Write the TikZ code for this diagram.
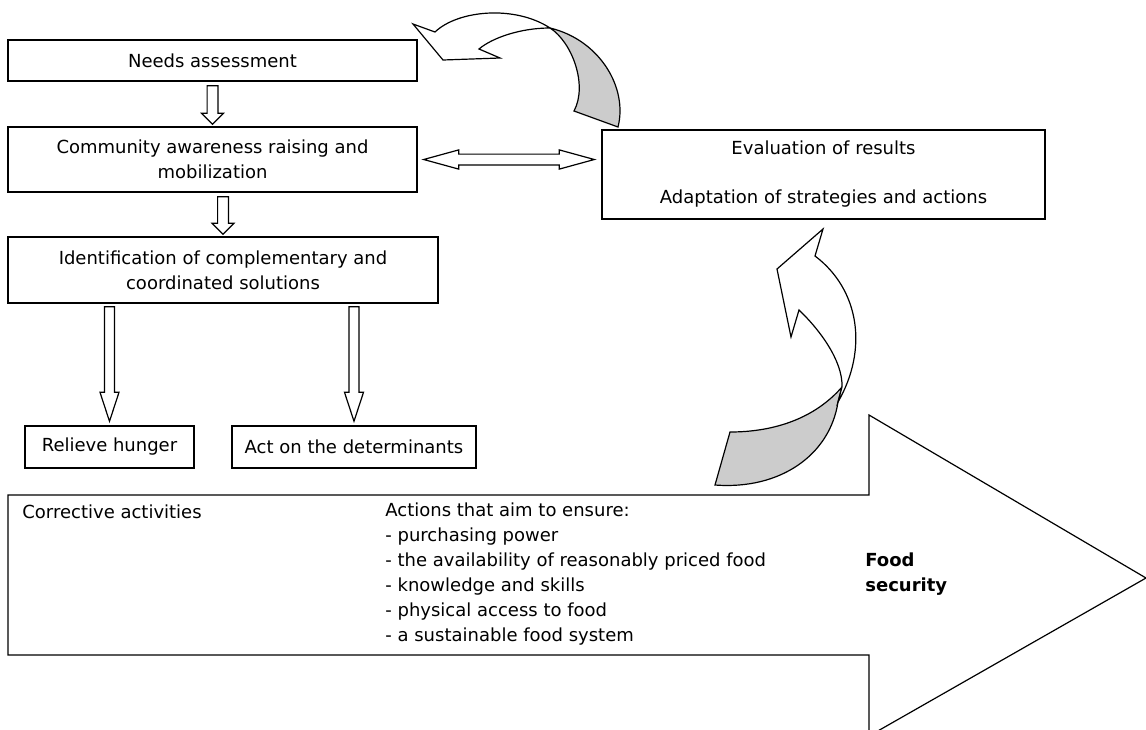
\documentclass[tikz,border=0pt]{standalone}
\usepackage{fontspec}
\setmainfont{DejaVu Sans}
\usetikzlibrary{calc}

\tikzset{
  stage/.style={draw, line width=0.7pt, inner sep=0pt, align=center, font=\fontsize{9}{12.5}\selectfont},
  hollow/.style={draw, line width=0.6pt, fill=white, line join=miter},
  twisted/.style={draw, line width=0.6pt, fill=black!20},
  plain/.style={inner sep=0pt, align=left, font=\fontsize{9}{12.5}\selectfont}
}

% vertical block arrow: start, tip, shaft half width, head half width, head length
\newcommand{\vhollow}[5]{%
  \draw[hollow] let \p1=(#1), \p2=(#2) in
    (\x2,\y2) -- (\x2-#4,\y2+#5) -- (\x2-#3,\y2+#5) -- (\x2-#3,\y1)
    -- (\x2+#3,\y1) -- (\x2+#3,\y2+#5) -- (\x2+#4,\y2+#5) -- cycle;}

\begin{document}
\begin{tikzpicture}[x=0.5pt, y=-0.5pt]
    \useasboundingbox (0,0) rectangle (1146,729);

    % Big arrow
    \draw[hollow] (8,495) -- (869,495) -- (869,415) -- (1146,578) -- (869,736) -- (869,655) -- (8,655) -- cycle;
    \node[plain, anchor=west] (corrective) at (22,512) {Corrective activities};
    \node[plain, anchor=west] (actions) at (385,574.5) {Actions that aim to ensure:\\- purchasing power\\- the availability of reasonably priced food\\- knowledge and skills\\- physical access to food\\- a sustainable food system};
    \node[plain, anchor=west, font=\fontsize{9}{12.5}\selectfont\bfseries] (foodsec) at (865,574.5) {Food\\security};

    % Boxes
    \node[stage, minimum width=204.5pt, minimum height=20.5pt] (needs) at (212.5,60.5) {Needs assessment};
    \node[stage, minimum width=204.5pt, minimum height=32.5pt] (aware) at (212.5,159.5) {Community awareness raising and\\mobilization};
    \node[stage, minimum width=215pt, minimum height=33pt] (solutions) at (223,270) {Identification of complementary and\\coordinated solutions};
    \node[stage, minimum width=84.5pt, minimum height=21pt] (relieve) at (109.5,447) {Relieve hunger};
    \node[stage, minimum width=122pt, minimum height=21pt] (determ) at (354,447) {Act on the determinants};
    \node[stage, minimum width=221.5pt, minimum height=44.5pt] (evalbox) at (823.5,174.5) {Evaluation of results\\[12pt]Adaptation of strategies and actions};

    % Block arrows
    \vhollow{$(needs.south)+(0,4)$}{$(aware.north)+(0,-2)$}{2.7pt}{5.5pt}{5.5pt}
    \vhollow{$(aware.south)+(0,4)$}{$(solutions.north)+(0,-2)$}{2.7pt}{5.5pt}{5.5pt}
    \vhollow{$(solutions.south -| relieve.north)+(0,3)$}{$(relieve.north)+(0,-4)$}{2.5pt}{4.75pt}{14.5pt}
    \vhollow{$(solutions.south -| determ.north)+(0,3)$}{$(determ.north)+(0,-4)$}{2.5pt}{4.75pt}{14.5pt}
    \draw[hollow] let \p1=($(aware.east)+(6,0)$), \p2=($(aware.east -| evalbox.west)+(-7,0)$) in
        (\p1) -- (\x1+17.5pt,\y1+4.8pt) -- (\x1+17.5pt,\y1+2.7pt) -- (\x2-17.5pt,\y1+2.7pt)
        -- (\x2-17.5pt,\y1+4.8pt) -- (\p2) -- (\x2-17.5pt,\y1-4.8pt) -- (\x2-17.5pt,\y1-2.7pt)
        -- (\x1+17.5pt,\y1-2.7pt) -- (\x1+17.5pt,\y1-4.8pt) -- cycle;

    % Curved arrow, top
    \draw[twisted] (550,28) .. controls (572,42) and (588,85) .. (574,111) -- (618,127) .. controls (628,88) and (600,40) .. (550,28) -- cycle;
    \draw[hollow] (550,28) .. controls (515,5) and (458,10) .. (435,32) -- (413,24) -- (443,60) -- (500,58) -- (479,49) .. controls (492,38) and (520,28) .. (550,28) -- cycle;

    % Curved arrow, bottom
    \draw[twisted] (842,387) .. controls (815,418) and (775,432) .. (730,432) -- (715,485) .. controls (780,490) and (830,455) .. (838,402) -- cycle;
    \draw[hollow] (838,402) .. controls (868,350) and (860,290) .. (815,256) -- (823,229) -- (777,269) -- (791,337) -- (799,310) .. controls (818,328) and (843,360) .. (842,387) -- cycle;
\end{tikzpicture}
\end{document}
